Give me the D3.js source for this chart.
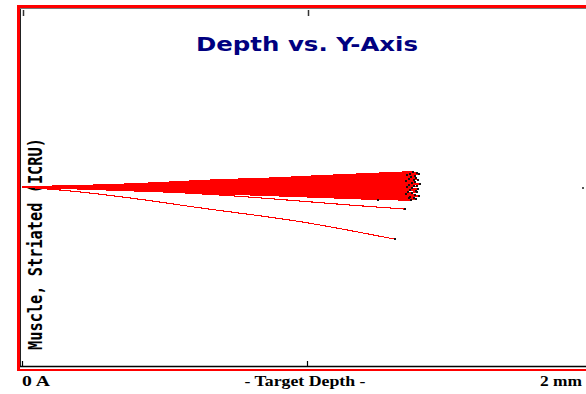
<!DOCTYPE html>
<html>
<head>
<meta charset="utf-8">
<script src="https://cdn.jsdelivr.net/npm/d3@7"></script>
<style>
  html, body { margin: 0; padding: 0; background: #ffffff; overflow: hidden; }
  svg { display: block; }
</style>
</head>
<body>
<script>
// Ion track plot: depth (mm) against lateral Y displacement (mm)
const titleText = "Depth vs. Y-Axis";
const yAxisTitle = "Muscle, Striated (ICRU)";
const xTickLabels = ["0 A", "- Target Depth -", "2 mm"];
const xTickDepths = [0, 1, 2];

// depths (mm) at which each band track's lateral position is sampled
const sampleDepths = [0.35, 0.70, 1.05];

// band tracks: [lateral@0.35, lateral@0.70, lateral@1.05, end depth, end lateral] in mm
const bandTracks = [
  [0.007, 0.022, 0.039, 1.372, 0.053],
  [0.009, 0.025, 0.036, 1.385, 0.050],
  [0.005, 0.018, 0.033, 1.361, 0.047],
  [0.008, 0.019, 0.030, 1.392, 0.044],
  [0.004, 0.016, 0.031, 1.350, 0.041],
  [0.006, 0.020, 0.027, 1.378, 0.038],
  [0.003, 0.013, 0.024, 1.366, 0.035],
  [0.007, 0.015, 0.025, 1.383, 0.032],
  [0.002, 0.010, 0.019, 1.357, 0.029],
  [0.005, 0.014, 0.020, 1.389, 0.026],
  [0.002, 0.008, 0.016, 1.374, 0.023],
  [0.005, 0.011, 0.013, 1.346, 0.020],
  [0.001, 0.006, 0.012, 1.380, 0.017],
  [0.003, 0.009, 0.010, 1.368, 0.014],
  [-0.002, 0.003, 0.008, 1.395, 0.011],
  [0.002, 0.005, 0.004, 1.359, 0.008],
  [-0.001, 0.001, 0.004, 1.377, 0.005],
  [0.002, -0.002, 0.001, 1.387, 0.002],
  [-0.002, 0.002, -0.003, 1.352, -0.001],
  [0.001, -0.004, -0.002, 1.370, -0.004],
  [-0.003, -0.001, -0.006, 1.391, -0.007],
  [0.000, -0.006, -0.008, 1.363, -0.010],
  [-0.004, -0.004, -0.011, 1.381, -0.013],
  [-0.002, -0.009, -0.010, 1.355, -0.016],
  [-0.005, -0.007, -0.015, 1.386, -0.019],
  [-0.003, -0.012, -0.016, 1.369, -0.022],
  [-0.006, -0.010, -0.019, 1.348, -0.025],
  [-0.003, -0.015, -0.021, 1.379, -0.028],
  [-0.007, -0.013, -0.024, 1.393, -0.031],
  [-0.004, -0.017, -0.027, 1.362, -0.034],
  [-0.008, -0.016, -0.029, 1.375, -0.037],
  [-0.005, -0.019, -0.030, 1.358, -0.040],
  [-0.008, -0.021, -0.033, 1.384, -0.043],
  [-0.006, -0.020, -0.035, 1.366, -0.046]
];

// tracks scattered away from the main band: [depth, lateral] points in mm
const scatteredTrackA = [[0, 0], [0.276, -0.007], [0.696, -0.028], [0.976, -0.049], [1.150, -0.063], [1.343, -0.077]];
const scatteredTrackB = [[0, 0], [0.171, -0.014], [0.346, -0.034], [0.626, -0.073], [0.976, -0.121], [1.308, -0.182]];
const scatteredTrackC = [[0, 0], [0.600, -0.021], [0.980, -0.034], [1.250, -0.044]];

// a lone stopping point far past the band
const strayStops = [[1.968, -0.003]];

const W = 586, H = 394;
const plot = { left: 22, right: 592, top: 8, bottom: 366 };

const svg = d3.select("body").append("svg")
  .attr("width", W).attr("height", H);

const x = d3.scaleLinear().domain([0, 2]).range([plot.left, plot.left + 2 * 285]);
const y = d3.scaleLinear().domain([-0.625, 0.625]).range([plot.bottom, plot.top]);

// outer frame
svg.append("rect").attr("x", 17).attr("y", 5).attr("width", 600).attr("height", 366)
  .attr("fill", "#ff0000");
svg.append("rect").attr("x", 20).attr("y", 8).attr("width", 600).attr("height", 361)
  .attr("fill", "#ffffff");
// inner dark edges
svg.append("line").attr("x1", 20.5).attr("x2", 20.5).attr("y1", 8).attr("y2", 367)
  .attr("stroke", "#222").attr("stroke-width", 1);
svg.append("line").attr("x1", 20).attr("x2", 600).attr("y1", 8.5).attr("y2", 8.5)
  .attr("stroke", "#777").attr("stroke-width", 1);
svg.append("line").attr("x1", 20).attr("x2", 600).attr("y1", 366.5).attr("y2", 366.5)
  .attr("stroke", "#000").attr("stroke-width", 1.3);

// ticks at top and bottom
const tickG = svg.append("g");
tickG.selectAll("line.tb").data(xTickDepths.slice(0, 2)).join("line")
  .attr("x1", d => Math.round(x(d)) + 1.5).attr("x2", d => Math.round(x(d)) + 1.5)
  .attr("y1", 10).attr("y2", 16).attr("stroke", "#333").attr("stroke-width", 1.5);
tickG.selectAll("line.bb").data(xTickDepths.slice(0, 2)).join("line")
  .attr("x1", d => Math.round(x(d)) + 0.5).attr("x2", d => Math.round(x(d)) + 0.5)
  .attr("y1", 361).attr("y2", 366).attr("stroke", "#000").attr("stroke-width", 1.2);

// title
svg.append("text").attr("x", 307).attr("y", 50.5)
  .attr("text-anchor", "middle")
  .attr("font-family", "'DejaVu Sans', Verdana, sans-serif")
  .attr("font-weight", "bold").attr("font-size", 20)
  .attr("textLength", 222).attr("lengthAdjust", "spacingAndGlyphs")
  .attr("fill", "#000080").text(titleText);

// y axis title
svg.append("text")
  .attr("transform", "translate(42,350) rotate(-90)")
  .attr("font-family", "'DejaVu Sans Mono', monospace")
  .attr("font-weight", "bold").attr("font-size", 19)
  .attr("textLength", 212).attr("lengthAdjust", "spacingAndGlyphs")
  .attr("fill", "#000").text(yAxisTitle);

// x axis labels
const labelPos = [
  { x: 22, anchor: "start", len: 28 },
  { x: 305, anchor: "middle", len: 121 },
  { x: 582, anchor: "end", len: 42 }
];
svg.selectAll("text.xl").data(xTickLabels).join("text")
  .attr("x", (d, i) => labelPos[i].x).attr("y", 386)
  .attr("text-anchor", (d, i) => labelPos[i].anchor)
  .attr("font-family", "'Liberation Serif', 'Times New Roman', serif")
  .attr("font-weight", "bold").attr("font-size", 15)
  .attr("textLength", (d, i) => labelPos[i].len).attr("lengthAdjust", "spacingAndGlyphs")
  .attr("fill", "#000").text(d => d);

// build point lists for band tracks
const bandPaths = bandTracks.map(r => [
  [0, 0],
  [sampleDepths[0], r[0]],
  [sampleDepths[1], r[1]],
  [sampleDepths[2], r[2]],
  [r[3], r[4]]
]);
const scatteredTracks = [scatteredTrackA, scatteredTrackB, scatteredTrackC];
const allTracks = bandPaths.concat(scatteredTracks);

const line = d3.line()
  .x(d => x(d[0])).y(d => y(d[1]))
  .curve(d3.curveMonotoneX);

const trackG = svg.append("g");
trackG.selectAll("path.band").data(bandPaths).join("path")
  .attr("d", line).attr("fill", "none")
  .attr("stroke", "#ff0000").attr("stroke-width", 1.6)
  .attr("shape-rendering", "crispEdges");
trackG.selectAll("path.scat").data(scatteredTracks).join("path")
  .attr("d", line).attr("fill", "none")
  .attr("stroke", "#ff0000").attr("stroke-width", 1.1)
  .attr("shape-rendering", "crispEdges");

// stopping points
const stops = allTracks.map(t => t[t.length - 1]).concat(strayStops);
trackG.selectAll("rect.stop").data(stops).join("rect")
  .attr("x", d => Math.round(x(d[0])) - 1).attr("y", d => Math.round(y(d[1])) - 1)
  .attr("width", 2).attr("height", 2)
  .attr("fill", (d, i) => i === stops.length - 1 ? "#555" : "#111");
</script>
</body>
</html>
